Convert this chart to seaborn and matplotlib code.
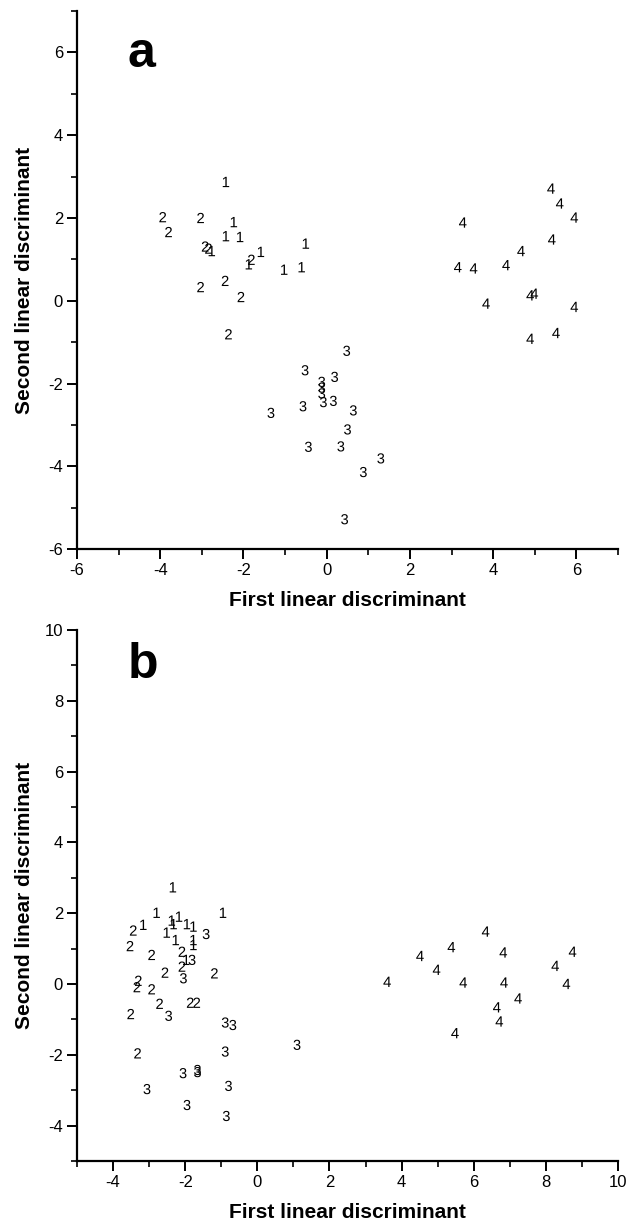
import matplotlib
matplotlib.use("Agg")
import matplotlib.pyplot as plt
import seaborn as sns
import pandas as pd
from matplotlib.ticker import MultipleLocator

# ---------------- data ----------------
# panel a
a_g1_x = [-2.42, -2.23, -2.42, -2.08, -2.76, -1.58, -1.87, -0.50, -1.02, -0.60]
a_g1_y = [2.87, 1.90, 1.56, 1.54, 1.20, 1.18, 0.88, 1.38, 0.75, 0.81]
a_g2_x = [-3.94, -3.03, -3.80, -2.92, -2.84, -1.81, -3.03, -2.44, -2.06, -2.36]
a_g2_y = [2.02, 2.00, 1.66, 1.31, 1.26, 0.99, 0.33, 0.48, 0.09, -0.81]
a_g3_x = [0.48, -0.52, 0.19, -0.12, -0.12, -0.12, -0.08, 0.16, -0.57, -1.34,
          0.64, 0.50, -0.44, 0.34, 1.30, 0.88, 0.43]
a_g3_y = [-1.21, -1.68, -1.84, -1.96, -2.10, -2.24, -2.45, -2.42, -2.55, -2.71,
          -2.65, -3.11, -3.53, -3.52, -3.81, -4.14, -5.28]
a_g4_x = [5.39, 5.60, 5.95, 3.27, 5.41, 4.67, 4.31, 3.15, 3.53, 4.89, 4.99,
          3.83, 5.95, 5.51, 4.89]
a_g4_y = [2.71, 2.35, 2.01, 1.89, 1.48, 1.20, 0.86, 0.81, 0.78, 0.13, 0.17,
          -0.07, -0.15, -0.78, -0.92]

# panel b
b_g1_x = [-2.34, -2.79, -0.95, -2.37, -2.32, -2.17, -1.95, -1.77, -3.16, -2.51,
          -2.26, -1.77, -1.77, -1.97]
b_g1_y = [2.73, 2.01, 2.01, 1.79, 1.69, 1.90, 1.69, 1.62, 1.67, 1.45,
          1.24, 1.24, 1.10, 0.68]
b_g2_x = [-3.44, -3.53, -2.93, -2.09, -2.09, -2.56, -1.19, -3.30, -3.34, -2.93,
          -2.71, -1.86, -1.68, -3.51, -3.32]
b_g2_y = [1.51, 1.07, 0.82, 0.91, 0.49, 0.32, 0.30, 0.09, -0.09, -0.15,
          -0.56, -0.53, -0.53, -0.85, -1.96]
b_g3_x = [-1.42, -1.81, -2.05, -2.46, -0.89, -0.68, -0.89, 1.10, -2.06, -1.66,
          -1.66, -3.06, -0.80, -1.95, -0.86]
b_g3_y = [1.41, 0.68, 0.16, -0.90, -1.09, -1.16, -1.91, -1.72, -2.52, -2.43,
          -2.49, -2.97, -2.88, -3.42, -3.73]
b_g4_x = [6.33, 5.38, 4.51, 6.82, 8.74, 8.26, 4.97, 3.60, 5.71, 6.84, 8.57,
          7.23, 6.64, 6.71, 5.48]
b_g4_y = [1.48, 1.04, 0.79, 0.89, 0.91, 0.51, 0.40, 0.06, 0.04, 0.04, 0.00,
          -0.41, -0.66, -1.06, -1.39]

groups = ["1", "2", "3", "4"]
panel_letters = ["a", "b"]
x_label = "First linear discriminant"
y_label = "Second linear discriminant"


def make_df(xs, ys):
    rows = []
    for g, x, y in zip(groups, xs, ys):
        for xi, yi in zip(x, y):
            rows.append({"x": xi, "y": yi, "group": g})
    return pd.DataFrame(rows)


df_a = make_df([a_g1_x, a_g2_x, a_g3_x, a_g4_x], [a_g1_y, a_g2_y, a_g3_y, a_g4_y])
df_b = make_df([b_g1_x, b_g2_x, b_g3_x, b_g4_x], [b_g1_y, b_g2_y, b_g3_y, b_g4_y])

# ---------------- style ----------------
sns.set_theme(style="ticks")
plt.rcParams["font.family"] = ["Liberation Sans", "DejaVu Sans"]
plt.rcParams["axes.unicode_minus"] = False
plt.rcParams["mathtext.fontset"] = "custom"
plt.rcParams["mathtext.rm"] = "Liberation Sans"
plt.rcParams["mathtext.it"] = "Liberation Sans"
plt.rcParams["mathtext.bf"] = "Liberation Sans:bold"

digit_markers = {g: "$\\mathrm{%s}$" % g for g in groups}

fig = plt.figure(figsize=(6.29, 12.28), dpi=100)
ax_a = fig.add_axes([0.1224, 0.5529, 0.8601, 0.4381])
ax_b = fig.add_axes([0.1224, 0.0546, 0.8601, 0.4324])

specs = [
    (ax_a, df_a, (-6, 7), (-6, 7), (0.094, 0.896), -0.078),
    (ax_b, df_b, (-5, 10), (-5, 10), (0.094, 0.910), -0.079),
]

for (ax, df, xl, yl, letter_pos, xlab_y), letter in zip(specs, panel_letters):
    sns.scatterplot(data=df, x="x", y="y", style="group", markers=digit_markers,
                    color="black", s=55, linewidth=0, legend=False, ax=ax)
    ax.set_xlim(*xl)
    ax.set_ylim(*yl)
    ax.xaxis.set_major_locator(MultipleLocator(2))
    ax.xaxis.set_minor_locator(MultipleLocator(1))
    ax.yaxis.set_major_locator(MultipleLocator(2))
    ax.yaxis.set_minor_locator(MultipleLocator(1))
    for side in ["top", "right"]:
        ax.spines[side].set_visible(False)
    for side in ["left", "bottom"]:
        ax.spines[side].set_linewidth(1.6)
        ax.spines[side].set_color("black")
    ax.tick_params(which="major", direction="out", length=7, width=1.4,
                   labelsize=12, colors="black", pad=3)
    ax.tick_params(which="minor", direction="out", length=4, width=1.2,
                   colors="black")
    ax.set_xlabel(x_label, fontsize=15, fontweight="bold", color="black")
    ax.set_ylabel(y_label, fontsize=15, fontweight="bold", color="black")
    ax.xaxis.set_label_coords(0.5, xlab_y)
    ax.xaxis.label.set_verticalalignment("top")
    ax.yaxis.set_label_coords(-0.08, 0.5)
    ax.text(letter_pos[0], letter_pos[1], letter, transform=ax.transAxes,
            fontsize=36, fontweight="bold", ha="left", va="baseline",
            color="black")

fig.savefig("out.png", dpi=100, facecolor="white")
